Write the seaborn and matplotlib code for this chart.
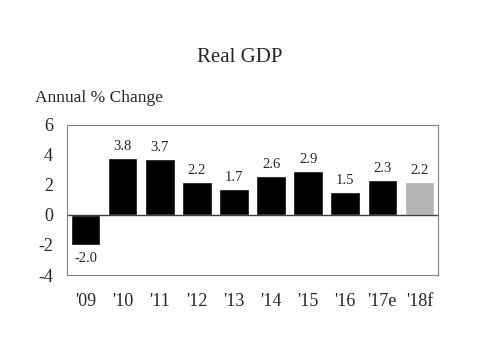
import matplotlib
matplotlib.use("Agg")
import matplotlib.pyplot as plt
import seaborn as sns
import pandas as pd

years = ["'09", "'10", "'11", "'12", "'13", "'14", "'15", "'16", "'17e", "'18f"]
values = [-2.0, 3.8, 3.7, 2.2, 1.7, 2.6, 2.9, 1.5, 2.3, 2.2]
colors = ["#000000"] * 9 + ["#b4b4b4"]

sns.set_theme(style="white")
plt.rcParams['font.family'] = ['Liberation Serif', 'DejaVu Serif']

df = pd.DataFrame({"year": years, "value": values})

fig = plt.figure(figsize=(4.8, 3.6), dpi=100)
ax = fig.add_axes([67/480, 1 - 275/360, 371/480, 150/360])
sns.barplot(data=df, x="year", y="value", hue="year", palette=colors,
            legend=False, width=0.8, ax=ax, saturation=1)

ax.set_ylim(-4, 6)
ax.set_yticks([-4, -2, 0, 2, 4, 6])
ax.set_yticklabels(["-4", "-2", "0", "2", "4", "6"], fontsize=13)
ax.tick_params(axis='x', labelsize=13, pad=13, length=0)
ax.tick_params(axis='y', length=0, pad=10)
ax.set_xlabel("")
ax.set_ylabel("")
ax.axhline(0, color="#404040", lw=1)
for s in ax.spines.values():
    s.set_color("#808080")
    s.set_linewidth(0.8)

for i, v in enumerate(values):
    if v >= 0:
        ax.text(i, v + 0.35, f"{v:.1f}", ha="center", va="bottom", fontsize=10.5)
    else:
        ax.text(i, v - 0.45, f"{v:.1f}", ha="center", va="top", fontsize=10.5)

fig.text(0.5, 1 - 58/360, "Real GDP", ha="center", va="center", fontsize=15)
fig.text(35/480, 1 - 98/360, "Annual % Change", ha="left", va="center", fontsize=12.5)

fig.savefig("out.png", dpi=100)
